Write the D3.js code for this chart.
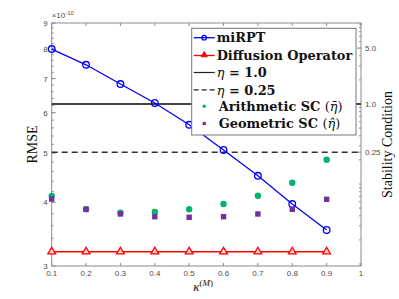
<!DOCTYPE html>
<html><head><meta charset="utf-8">
<script src="https://cdn.jsdelivr.net/npm/d3@7"></script>
<style>body{margin:0;background:#fff}svg{display:block}</style>
</head><body>
<svg id="c" width="399" height="299"></svg>
<script>
const kappa = [0.1,0.2,0.3,0.4,0.5,0.6,0.7,0.8,0.9];
const miRPT = [8.0,7.45,6.83,6.27,5.68,5.07,4.51,3.97,3.53].map(v=>v*1e-10);
const diffusion = [3.2,3.2,3.2,3.2,3.2,3.2,3.2,3.2,3.2].map(v=>v*1e-10);
const arithSC = [0.0708,0.0483,0.0438,0.0447,0.0483,0.0562,0.0714,0.1038,0.201];
const geomSC = [0.0649,0.0483,0.0422,0.0390,0.0384,0.0390,0.0422,0.0483,0.0644];
const etaLines = [1.0, 0.25];
const xTicks = [0.1,0.2,0.3,0.4,0.5,0.6,0.7,0.8,0.9,1];
const xTickLabels = ["0.1","0.2","0.3","0.4","0.5","0.6","0.7","0.8","0.9","1"];
const leftTicks = [3,4,5,6,7,8,9];
const rightTicks = [0.25,1.0,5.0];
const rightTickLabels = ["0.25","1.0","5.0"];
const legendLabels = ["miRPT","Diffusion Operator","η = 1.0","η = 0.25","Arithmetic SC","Geometric SC"];

const svg = d3.select("#c");
const L=51.7, R=361, T=23, B=266;
const x = d3.scaleLinear([0.1,1],[L,R]);
const yL = d3.scaleLog([3e-10,9e-10],[B,T]);
const yR = d3.scaleLog([Math.pow(10,-2.025),Math.pow(10,1.0125)],[B,T]);
const axCol="#8a8a8a", txtCol="#4d4d4d";

svg.append("rect").attr("x",L).attr("y",T).attr("width",R-L).attr("height",B-T)
  .attr("fill","none").attr("stroke",axCol).attr("stroke-width",1);

const g=svg.append("g");
xTicks.forEach((t,i)=>{
  g.append("line").attr("x1",x(t)).attr("x2",x(t)).attr("y1",B).attr("y2",B-3).attr("stroke",axCol);
  g.append("line").attr("x1",x(t)).attr("x2",x(t)).attr("y1",T).attr("y2",T+3).attr("stroke",axCol);
  g.append("text").attr("x",x(t)).attr("y",B+10).attr("text-anchor","middle")
   .attr("font-family","Liberation Sans, Arial").attr("font-size",8).attr("fill",txtCol).text(xTickLabels[i]);
});
const leftMinor=[];
for(let v=3.2; v<9; v+=0.2){ leftMinor.push(Math.round(v*10)/10); }
leftMinor.forEach(v=>{
  g.append("line").attr("x1",L).attr("x2",L+2).attr("y1",yL(v*1e-10)).attr("y2",yL(v*1e-10)).attr("stroke",axCol);
});
leftTicks.forEach(t=>{
  g.append("line").attr("x1",L).attr("x2",L+4).attr("y1",yL(t*1e-10)).attr("y2",yL(t*1e-10)).attr("stroke",axCol);
  g.append("text").attr("x",L-4).attr("y",yL(t*1e-10)+3).attr("text-anchor","end")
   .attr("font-family","Liberation Sans, Arial").attr("font-size",8).attr("fill",txtCol).text(t);
});
const ex=g.append("text").attr("x",L).attr("y",T-5).attr("font-family","Liberation Sans, Arial").attr("font-size",8).attr("fill",txtCol);
ex.append("tspan").text("×10");
ex.append("tspan").attr("dy",-3).attr("font-size",6).text("-10");

const rMinor=[];
[0.01,0.1,1].forEach(d=>{for(let k=1;k<10;k++){rMinor.push(d*k);}});
rMinor.push(10);
rMinor.forEach(v=>{
  if(v>=yR.domain()[0] && v<=yR.domain()[1])
  g.append("line").attr("x1",R).attr("x2",R-2).attr("y1",yR(v)).attr("y2",yR(v)).attr("stroke",axCol);
});
rightTicks.forEach((t,i)=>{
  g.append("line").attr("x1",R).attr("x2",R-4).attr("y1",yR(t)).attr("y2",yR(t)).attr("stroke",axCol);
  g.append("text").attr("x",R+4).attr("y",yR(t)+3).attr("font-family","Liberation Sans, Arial")
   .attr("font-size",8).attr("fill",txtCol).text(rightTickLabels[i]);
});

svg.append("line").attr("x1",L).attr("x2",R).attr("y1",yR(etaLines[0])).attr("y2",yR(etaLines[0]))
  .attr("stroke","#444").attr("stroke-width",2);
svg.append("line").attr("x1",L).attr("x2",R).attr("y1",yR(etaLines[1])).attr("y2",yR(etaLines[1]))
  .attr("stroke","#333").attr("stroke-width",1.5).attr("stroke-dasharray","6,4");

const lineL=d3.line().x((d,i)=>x(kappa[i])).y(d=>yL(d));
svg.append("path").attr("d",lineL(miRPT)).attr("fill","none").attr("stroke","#0000ff").attr("stroke-width",1.3);
svg.selectAll(".mc").data(miRPT).join("circle").attr("cx",(d,i)=>x(kappa[i])).attr("cy",d=>yL(d))
  .attr("r",3.3).attr("fill","none").attr("stroke","#0000ff").attr("stroke-width",1.3);
svg.append("path").attr("d",lineL(diffusion)).attr("fill","none").attr("stroke","#ff0000").attr("stroke-width",1.3);
const tri=d3.symbol().type(d3.symbolTriangle).size(26);
svg.selectAll(".dt").data(diffusion).join("path").attr("d",tri)
  .attr("transform",(d,i)=>`translate(${x(kappa[i])},${yL(d)})`)
  .attr("fill","#ffd0d0").attr("stroke","#ff0000").attr("stroke-width",1.3);
const green="#00b26b", purple="#7030a0";
svg.selectAll(".ga").data(arithSC).join("circle").attr("cx",(d,i)=>x(kappa[i])).attr("cy",d=>yR(d))
  .attr("r",3.2).attr("fill",green);
svg.selectAll(".gs").data(geomSC).join("rect").attr("x",(d,i)=>x(kappa[i])-2.7).attr("y",d=>yR(d)-2.7)
  .attr("width",5.4).attr("height",5.4).attr("fill",purple);

const lx=191.7, ly=28.3, lw=164.3, lh=106.7;
svg.append("rect").attr("x",lx).attr("y",ly).attr("width",lw).attr("height",lh)
  .attr("fill","#fff").attr("stroke","#777").attr("stroke-width",1);
const rows=[37.7,55.5,72.5,89.8,106.2,123.5];
const sx1=lx+2, sx2=lx+23, smid=(sx1+sx2)/2, tx=lx+25;
svg.append("line").attr("x1",sx1).attr("x2",sx2).attr("y1",rows[0]).attr("y2",rows[0]).attr("stroke","#0000ff").attr("stroke-width",1.3);
svg.append("circle").attr("cx",smid).attr("cy",rows[0]).attr("r",2.3).attr("fill","none").attr("stroke","#0000ff").attr("stroke-width",1.2);
svg.append("line").attr("x1",sx1).attr("x2",sx2).attr("y1",rows[1]).attr("y2",rows[1]).attr("stroke","#ff0000").attr("stroke-width",1.3);
svg.append("path").attr("d",d3.symbol().type(d3.symbolTriangle).size(16)).attr("transform",`translate(${smid},${rows[1]-0.5})`).attr("fill","#ff0000").attr("stroke","#ff0000");
svg.append("line").attr("x1",sx1).attr("x2",sx2).attr("y1",rows[2]).attr("y2",rows[2]).attr("stroke","#222").attr("stroke-width",1.2);
svg.append("line").attr("x1",sx1).attr("x2",sx2).attr("y1",rows[3]).attr("y2",rows[3]).attr("stroke","#222").attr("stroke-width",1.2).attr("stroke-dasharray","5,3");
svg.append("circle").attr("cx",smid).attr("cy",rows[4]).attr("r",1.7).attr("fill",green);
svg.append("rect").attr("x",smid-1.6).attr("y",rows[5]-1.6).attr("width",3.2).attr("height",3.2).attr("fill",purple);
const lf="DejaVu Serif, Liberation Serif, serif";
const fs=12.9;
function ltext(i){return svg.append("text").attr("x",tx).attr("y",rows[i]+4.7).attr("font-family",lf).attr("font-size",fs).attr("font-weight","bold").attr("fill","#111");}
ltext(0).text(legendLabels[0]);
ltext(1).text(legendLabels[1]);
{const t=ltext(2); t.append("tspan").attr("font-style","italic").attr("font-weight","normal").text("η"); t.append("tspan").text(" = 1.0");}
{const t=ltext(3); t.append("tspan").attr("font-style","italic").attr("font-weight","normal").text("η"); t.append("tspan").text(" = 0.25");}
{const t=svg.append("text").attr("x",tx+2).attr("y",rows[4]+4.7).attr("font-family",lf).attr("font-size",fs).attr("fill","#111");
 t.append("tspan").attr("font-weight","bold").text(legendLabels[4]+" ");
 t.append("tspan").text("(");t.append("tspan").attr("font-style","italic").text("η̄");t.append("tspan").text(")");}
{const t=svg.append("text").attr("x",tx+2).attr("y",rows[5]+4.7).attr("font-family",lf).attr("font-size",fs).attr("fill","#111");
 t.append("tspan").attr("font-weight","bold").text(legendLabels[5]+" ");
 t.append("tspan").text("(");t.append("tspan").attr("font-style","italic").text("η̂");t.append("tspan").text(")");}

svg.append("text").attr("transform",`translate(37,${(T+B)/2}) rotate(-90)`).attr("text-anchor","middle")
  .attr("font-family","Liberation Serif, serif").attr("font-size",14).attr("fill","#111").text("RMSE");
svg.append("text").attr("transform",`translate(392,${(T+B)/2}) rotate(-90)`).attr("text-anchor","middle")
  .attr("font-family","Liberation Serif, serif").attr("font-size",14).attr("fill","#111").text("Stability Condition");
{const t=svg.append("text").attr("x",203).attr("y",291).attr("text-anchor","middle").attr("font-family","Liberation Serif, serif").attr("font-size",13).attr("fill","#111");
 t.append("tspan").attr("font-style","italic").text("κ");
 t.append("tspan").attr("dy",-5).attr("font-size",9).text("(");
 t.append("tspan").attr("font-size",9).attr("font-style","italic").text("M");
 t.append("tspan").attr("font-size",9).text(")");}
</script>
</body></html>
